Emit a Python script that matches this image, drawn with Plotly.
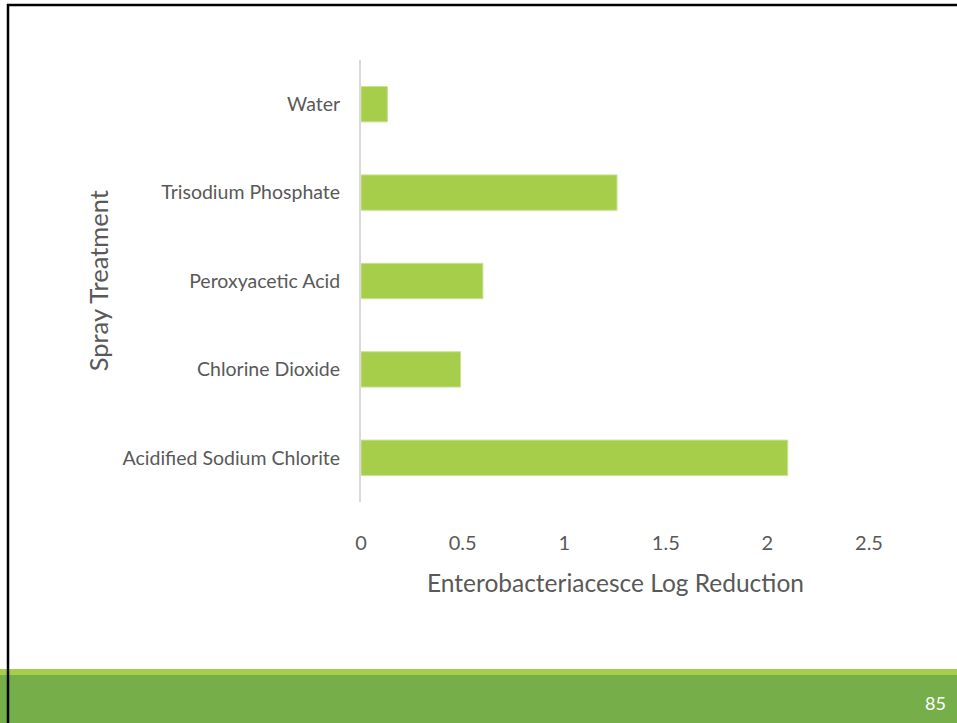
import plotly.graph_objects as go

categories = ["Acidified Sodium Chlorite", "Chlorine Dioxide", "Peroxyacetic Acid",
              "Trisodium Phosphate", "Water"]
log_reduction = [2.10, 0.49, 0.60, 1.26, 0.13]
x_ticks = [0, 0.5, 1, 1.5, 2, 2.5]
x_tick_labels = ["0", "0.5", "1", "1.5", "2", "2.5"]

FONT = "Lato"
GREY = "#595959"

fig = go.Figure(go.Bar(
    y=categories, x=log_reduction, orientation="h",
    marker=dict(color="#A6CE4A", line=dict(color="#C9E294", width=1)),
    width=0.4,
))

fig.update_layout(
    width=957, height=723,
    margin=dict(l=361, r=88, t=60, b=221),
    paper_bgcolor="white", plot_bgcolor="white",
    showlegend=False,
    xaxis=dict(range=[0, 2.5], tickvals=x_ticks, ticktext=x_tick_labels,
               showgrid=False, zeroline=False, showline=False,
               ticks="", ticklabelstandoff=27,
               tickfont=dict(family=FONT, size=20, color=GREY), fixedrange=True),
    yaxis=dict(showgrid=False, zeroline=False, showline=True, linecolor="#D9D9D9",
               linewidth=2, ticks="", ticklabelstandoff=15,
               tickfont=dict(family=FONT, size=19.5, color=GREY),
               range=[-0.5, 4.5], fixedrange=True),
    annotations=[
        dict(text="Enterobacteriacesce Log Reduction", xref="paper", yref="paper",
             x=0.5, y=-0.182, xanchor="center", yanchor="middle", showarrow=False,
             font=dict(family=FONT, size=24.5, color=GREY)),
        dict(text="Spray Treatment", xref="paper", yref="paper",
             x=-0.517, y=0.5, xanchor="center", yanchor="middle", showarrow=False,
             textangle=-90, font=dict(family=FONT, size=25.5, color=GREY)),
        dict(text="85", xref="paper", yref="paper", x=1.155, y=-0.455,
             xanchor="right", yanchor="middle", showarrow=False,
             font=dict(family=FONT, size=18, color="white")),
    ],
)

# footer bars and frame (paper coords -> pixels via margins)
def px_x(p):
    return (p - 361) / 508

def px_y(p):
    return (502 - p) / 442

fig.add_shape(type="rect", xref="paper", yref="paper",
              x0=px_x(0), x1=px_x(957), y0=px_y(675), y1=px_y(669),
              fillcolor="#A6CE4A", line=dict(width=0), layer="below")
fig.add_shape(type="rect", xref="paper", yref="paper",
              x0=px_x(0), x1=px_x(957), y0=px_y(723), y1=px_y(675),
              fillcolor="#76AF4A", line=dict(width=0), layer="below")
fig.add_shape(type="line", xref="paper", yref="paper",
              x0=px_x(7), x1=px_x(957), y0=px_y(5), y1=px_y(5),
              line=dict(color="black", width=2.5))
fig.add_shape(type="line", xref="paper", yref="paper",
              x0=px_x(8), x1=px_x(8), y0=px_y(4), y1=px_y(723),
              line=dict(color="black", width=2.5))

fig.write_html("out.html")
